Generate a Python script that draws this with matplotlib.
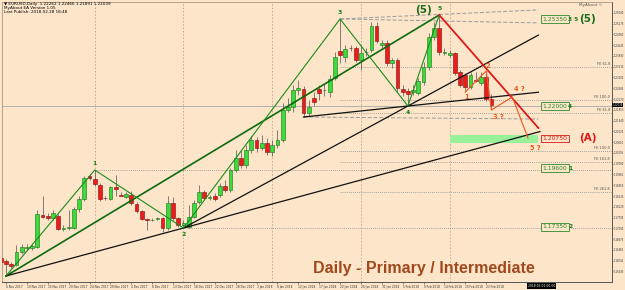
import numpy as np
import matplotlib.pyplot as plt
from matplotlib.patches import Rectangle

# daily EURUSD candles
opens = [1.16149, 1.16033, 1.15918, 1.15879, 1.16380, 1.16534, 1.16534, 1.16573, 1.17805, 1.17747,
         1.17689, 1.17766, 1.17265, 1.17304, 1.17304, 1.18036, 1.18421, 1.19306, 1.19191, 1.18960,
         1.18459, 1.18421, 1.18883, 1.18575, 1.18497, 1.18575, 1.18228, 1.17959, 1.17650, 1.17612,
         1.17650, 1.17689, 1.17304, 1.18267, 1.17689, 1.17420, 1.17343, 1.17727, 1.18305, 1.18690,
         1.18459, 1.18536, 1.18575, 1.18921, 1.18767, 1.19537, 1.19999, 1.19729, 1.20307, 1.20692,
         1.20384, 1.20577, 1.20230, 1.20500, 1.20692, 1.21847, 1.21962, 1.22617, 1.22656, 1.21731,
         1.22309, 1.22656, 1.22598, 1.22540, 1.23079, 1.24118, 1.23887, 1.24234, 1.24234, 1.23772,
         1.24080, 1.24157, 1.25081, 1.24350, 1.24427, 1.23657, 1.23772, 1.22656, 1.22579, 1.22540,
         1.22502, 1.22925, 1.23503, 1.24657, 1.25004, 1.24041, 1.23964, 1.24041, 1.23310, 1.23195,
         1.22733, 1.23002, 1.22887, 1.23118, 1.22262]
highs = [1.16264, 1.16110, 1.15995, 1.16649, 1.16688, 1.16688, 1.16688, 1.17997, 1.18536, 1.17882,
         1.17997, 1.17843, 1.17420, 1.17997, 1.18113, 1.18536, 1.19306, 1.19383, 1.19537, 1.19037,
         1.18536, 1.18921, 1.19345, 1.18690, 1.18690, 1.18729, 1.18305, 1.17997, 1.17689, 1.17689,
         1.17727, 1.17727, 1.18536, 1.18497, 1.17727, 1.17612, 1.18189, 1.18382, 1.18960, 1.18767,
         1.18575, 1.18652, 1.19037, 1.19152, 1.19614, 1.20307, 1.20307, 1.20500, 1.20846, 1.20807,
         1.20885, 1.20769, 1.20692, 1.21077, 1.22116, 1.22309, 1.22810, 1.23002, 1.22771, 1.22232,
         1.22540, 1.22810, 1.22848, 1.23195, 1.24080, 1.25351, 1.24350, 1.24350, 1.24311, 1.24350,
         1.24234, 1.25235, 1.25235, 1.24542, 1.24542, 1.23849, 1.23849, 1.22810, 1.22694, 1.22810,
         1.23079, 1.23695, 1.24811, 1.25235, 1.25505, 1.24234, 1.24157, 1.24080, 1.23387, 1.23272,
         1.23310, 1.23310, 1.23310, 1.23349, 1.22466]
lows = [1.15918, 1.15456, 1.15764, 1.15841, 1.16303, 1.16457, 1.16457, 1.16534, 1.17689, 1.17612,
        1.17612, 1.17227, 1.17188, 1.17227, 1.17265, 1.17920, 1.18344, 1.19152, 1.18921, 1.18344,
        1.18382, 1.18382, 1.18536, 1.18536, 1.18459, 1.18189, 1.17882, 1.17612, 1.17227, 1.17574,
        1.17612, 1.17150, 1.17227, 1.17612, 1.17343, 1.17304, 1.17304, 1.17689, 1.18228, 1.18421,
        1.18382, 1.18344, 1.18497, 1.18690, 1.18690, 1.19460, 1.19614, 1.19614, 1.20191, 1.20230,
        1.20307, 1.20114, 1.20076, 1.20384, 1.20615, 1.21770, 1.21770, 1.22425, 1.21577, 1.21616,
        1.22001, 1.22232, 1.22386, 1.22348, 1.23002, 1.23657, 1.23695, 1.24118, 1.23695, 1.23387,
        1.23926, 1.24080, 1.24427, 1.24234, 1.23541, 1.23464, 1.22540, 1.22386, 1.22001, 1.22425,
        1.22425, 1.22810, 1.23387, 1.24542, 1.23964, 1.23964, 1.23887, 1.23195, 1.22733, 1.22540,
        1.22656, 1.22925, 1.22810, 1.22193, 1.21891]
closes = [1.15995, 1.15918, 1.15841, 1.16380, 1.16573, 1.16573, 1.16611, 1.17843, 1.17727, 1.17708,
          1.17882, 1.17265, 1.17304, 1.17343, 1.18036, 1.18421, 1.19229, 1.19229, 1.18998, 1.18421,
          1.18440, 1.18883, 1.18806, 1.18555, 1.18613, 1.18267, 1.17959, 1.17650, 1.17631, 1.17631,
          1.17689, 1.17304, 1.18267, 1.17689, 1.17420, 1.17497, 1.17727, 1.18267, 1.18690, 1.18459,
          1.18497, 1.18421, 1.18921, 1.18767, 1.19537, 1.19999, 1.19729, 1.20307, 1.20692, 1.20384,
          1.20577, 1.20230, 1.20500, 1.20692, 1.21847, 1.21962, 1.22617, 1.22694, 1.21731, 1.21962,
          1.22155, 1.22502, 1.22617, 1.23041, 1.23887, 1.23964, 1.24196, 1.24215, 1.23772, 1.24041,
          1.24099, 1.25081, 1.24503, 1.24427, 1.23657, 1.23772, 1.22694, 1.22540, 1.22463, 1.22617,
          1.22964, 1.23503, 1.24657, 1.25004, 1.24080, 1.24080, 1.24041, 1.23272, 1.22810, 1.22733,
          1.23195, 1.22964, 1.23118, 1.22270, 1.22039]

date_labels = ['6 Nov 2017', '10 Nov 2017', '15 Nov 2017', '20 Nov 2017', '24 Nov 2017', '29 Nov 2017',
               '4 Dec 2017', '8 Dec 2017', '13 Dec 2017', '18 Dec 2017', '22 Dec 2017', '28 Dec 2017',
               '3 Jan 2018', '8 Jan 2018', '12 Jan 2018', '17 Jan 2018', '22 Jan 2018', '26 Jan 2018',
               '31 Jan 2018', '5 Feb 2018', '9 Feb 2018', '14 Feb 2018', '19 Feb 2018', '23 Feb 2018']
date_pos = [1, 5, 9, 13, 17, 21, 25, 29, 33, 37, 41, 45, 49, 53, 57, 61, 65, 69, 73, 77, 81, 85, 89, 93]

price_ticks = [1.25590, 1.25175, 1.24760, 1.24345, 1.23930, 1.23515, 1.23100, 1.22685,
               1.22270, 1.21855, 1.21440, 1.21025, 1.20610, 1.20195, 1.19780, 1.19365, 1.18950,
               1.18535, 1.18120, 1.17705, 1.17290, 1.16875, 1.16460, 1.16045, 1.15630]

# primary count 1-5 (bar index)
wave_idx = [1, 18, 35, 65, 78, 84]
wave_names = ['', '1', '2', '3', '4', '5']
# minor count after (5)
minor_idx = [89, 93, 94, 98, 101]
minor_px = [1.22540, 1.23349, 1.21847, 1.22348, 1.20769]
minor_names = ['1', '2', '3 ?', '4 ?', '5 ?']

levels = [1.25350, 1.22000, 1.20750, 1.19600, 1.17350]
level_tags = ['3 5', '4', '', '1', '2']
fe_levels = [1.23503, 1.22232, 1.21731, 1.20269, 1.19845, 1.18690]
fe_names = ['FE 61.8', 'FE 100.0', 'FE 61.8', 'FE 100.0', 'FE 161.8', 'FE 261.8']

bg = '#fce5c8'
o, h, l, c = map(np.array, (opens, highs, lows, closes))
n = len(o)
idx = np.arange(n)
wave_px = [l[1], h[18], l[35], h[65], l[78], h[84]]

fig = plt.figure(figsize=(6.25, 2.9), dpi=100, facecolor=bg)
ax = fig.add_axes([2 / 625, 8 / 290, 610 / 625, 280 / 290], facecolor=bg)
ax.set_xlim(0.23, 117.1)
ax.set_ylim(1.15225, 1.26005)

# grid separators
for gx in [18, 35, 52, 69, 86]:
    ax.axvline(gx, color='#c8a68a', lw=0.6, ls=(0, (2, 2)), zorder=1)

# horizontal level lines
ax.axhline(1.22000, color='#a8a8a8', lw=0.6, zorder=1)
for y in fe_levels:
    ax.plot([65, 117.1], [y, y], color='#8a8a8a', lw=0.6, ls=(0, (1, 1.5)), zorder=1)
ax.plot([18, 117.1], [h[18], h[18]], color='#8a8a8a', lw=0.6, ls=(0, (1, 1.5)), zorder=1)
ax.plot([35, 117.1], [l[35], l[35]], color='#8a8a8a', lw=0.6, ls=(0, (1, 1.5)), zorder=1)

# gray dashed channel lines
ax.plot([65, 103], [h[65], 1.2570], color='#9a9a9a', lw=0.7, ls=(0, (4, 2)), zorder=2)
ax.plot([65, 103], [h[65], 1.2520], color='#9a9a9a', lw=0.7, ls=(0, (4, 2)), zorder=2)
ax.plot([58, 103], [l[58], 1.2150], color='#9a9a9a', lw=0.7, ls=(0, (4, 2)), zorder=2)

# green box (target zone)
ax.add_patch(Rectangle((86.1, 1.20577), 16.8, 0.00307, facecolor='#98f098', edgecolor='none', zorder=2))

# candles
ax.vlines(idx, l, h, color='#505050', lw=0.5, zorder=3)
lo = np.minimum(o, c)
bh = np.maximum(np.abs(c - o), 0.00008)
up = c >= o
ax.bar(idx[up], bh[up], bottom=lo[up], width=0.72, color='#3adb3a', edgecolor='#1d6d1d', lw=0.4, zorder=4)
ax.bar(idx[~up], bh[~up], bottom=lo[~up], width=0.72, color='#ee1b1b', edgecolor='#7a1010', lw=0.4, zorder=4)

# trend lines
def ext(x0, y0, x1, y1, xe):
    return [x0, xe], [y0, y0 + (y1 - y0) / (x1 - x0) * (xe - x0)]

ax.plot([wave_idx[0], wave_idx[5]], [wave_px[0], wave_px[5]], color='#0c6b0c', lw=1.2, zorder=5)
ax.plot(*ext(wave_idx[0], wave_px[0], wave_idx[2], wave_px[2], 103.3), color='#111111', lw=0.9, zorder=5)
ax.plot(*ext(wave_idx[2], wave_px[2], wave_idx[4], wave_px[4], 103.0), color='#111111', lw=0.9, zorder=5)
ax.plot(*ext(58, l[58], wave_idx[4], wave_px[4], 103.0), color='#111111', lw=0.9, zorder=5)
ax.plot(wave_idx, wave_px, color='#1a8c1a', lw=0.8, zorder=5)
ax.plot([wave_idx[5], 103], [wave_px[5], 1.21154], color='#e01818', lw=1.3, zorder=5)
ax.plot(minor_idx, minor_px, color='#f0561e', lw=0.8, zorder=5)

# wave labels
for xi, yi, t in zip(wave_idx[1:], wave_px[1:], wave_names[1:]):
    dy = 0.0026 if t in ('1', '3', '5') else -0.0026
    ax.text(xi, yi + dy, t, color='#1a7a1a', fontsize=4.5, fontweight='bold', ha='center', va='center', zorder=6)
ax.text(81, 1.2570, '(5)', color='#1a6b1a', fontsize=7.5, fontweight='bold', ha='center', va='center', zorder=6)
for xi, yi, t, dy in zip(minor_idx, minor_px, minor_names, [-0.0020, 0.0020, -0.0028, 0.0030, -0.0040]):
    ax.text(xi + 0.3, yi + dy, t, color='#ec5a1e', fontsize=4.8, fontweight='bold', ha='left' if '?' in t else 'center',
            va='center', zorder=6)

# level boxes at right
for y, tag in zip(levels, level_tags):
    col = '#d81818' if tag == '' else '#2c8a2c'
    ax.text(103.8, y, f'{y:.5f}', color=col, fontsize=4.3, ha='left', va='center', zorder=6,
            bbox=dict(boxstyle='square,pad=0.25', facecolor=bg, edgecolor=col, lw=0.6))
    if tag:
        ax.text(108.7, y, tag, color='#1d7a1d', fontsize=4.2, fontweight='bold', ha='left', va='center', zorder=6)
ax.text(110.8, levels[0], '(5)', color='#1a6b1a', fontsize=7.5, fontweight='bold', ha='left', va='center', zorder=6)
ax.text(110.8, levels[2], '(A)', color='#e01818', fontsize=7.5, fontweight='bold', ha='left', va='center', zorder=6)
for y, t in zip(fe_levels, fe_names):
    ax.text(116.7, y + 0.0003, t, color='#555555', fontsize=2.6, ha='right', va='bottom', zorder=6)

# axes styling
ax.yaxis.tick_right()
ax.set_yticks(price_ticks)
ax.set_yticklabels([f'{v:.5f}' for v in price_ticks])
ax.set_xticks(date_pos)
ax.set_xticklabels(date_labels, ha='left')
ax.tick_params(axis='x', labelsize=2.1, colors='#333333', length=1.5, width=0.4, pad=0.5)
ax.tick_params(axis='y', labelsize=1.85, colors='#333333', length=1.0, width=0.4, pad=0.3)
for side in ['left', 'top']:
    ax.spines[side].set_color('#9a8570')
    ax.spines[side].set_linewidth(0.5)
for side in ['right', 'bottom']:
    ax.spines[side].set_color('#555555')
    ax.spines[side].set_linewidth(0.7)

ax.text(1.0005, 1.22039, '1.22039', transform=ax.get_yaxis_transform(), color='white', fontsize=1.85,
        ha='left', va='center', bbox=dict(boxstyle='square,pad=0.12', facecolor='black', edgecolor='none'))
fig.text(528 / 625, 1 - 286 / 290, '2018.03.01 00:00', color='white', fontsize=2.2, ha='left', va='center',
         bbox=dict(boxstyle='square,pad=0.2', facecolor='black', edgecolor='none'))

# header texts
fig.text(4 / 625, 1 - 4 / 290, '\u25bc EURUSD,Daily  1.22262 1.22466 1.21891 1.22039', fontsize=3, color='black', va='center')
fig.text(4 / 625, 1 - 8 / 290, 'MyAbout EA Version 1.05', fontsize=3, color='black', va='center')
fig.text(4 / 625, 1 - 12 / 290, 'Last Publish: 2018.02.28 18:48', fontsize=3, color='black', va='center')
fig.text(603 / 625, 1 - 5 / 290, 'MyAbout \u00a9', fontsize=3, color='#555555', ha='right', va='center')

ax.text(0.510, 0.047, 'Daily - Primary / Intermediate', transform=ax.transAxes,
        color='#a0481e', fontsize=11.5, fontweight='bold', family='Liberation Sans', ha='left', va='center')

fig.savefig('out.png', dpi=100, facecolor=bg)
